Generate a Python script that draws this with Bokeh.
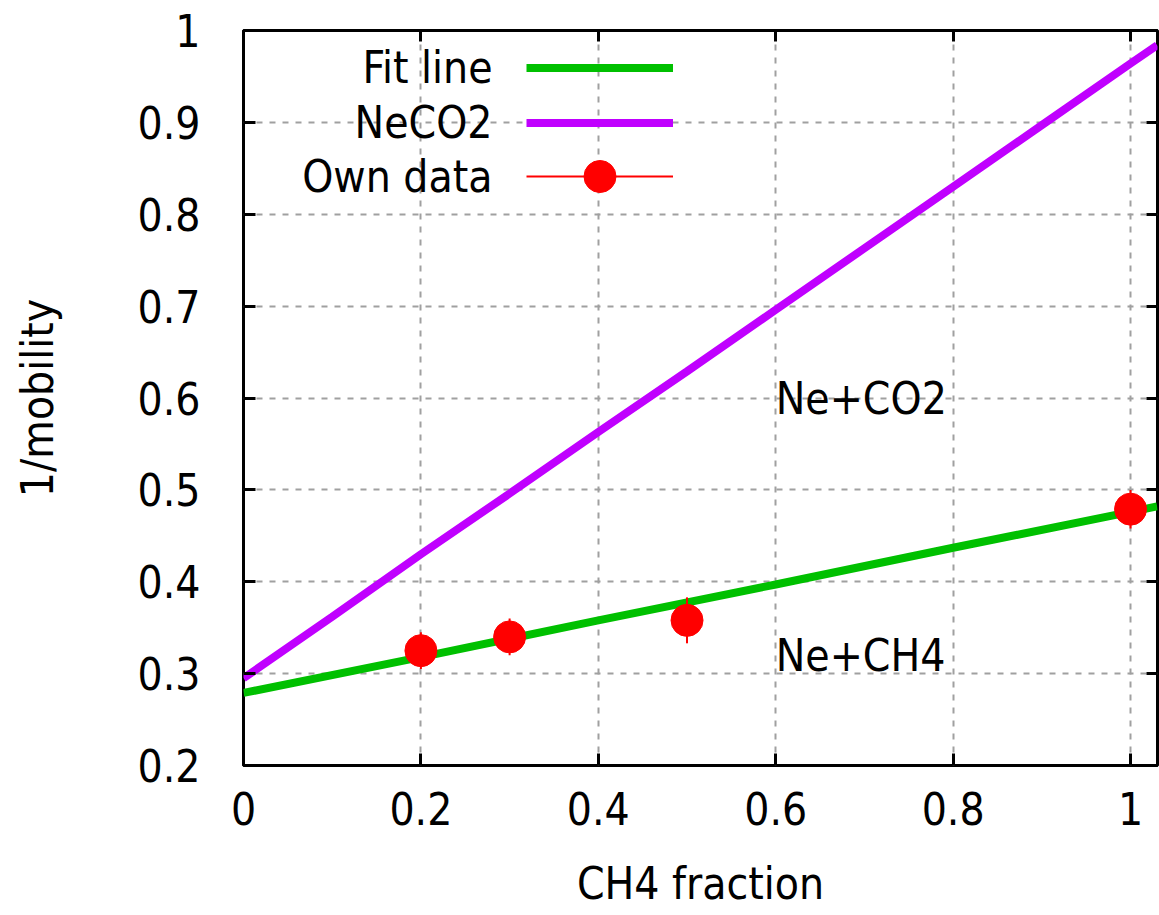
from bokeh.plotting import figure
from bokeh.models import (ColumnDataSource, Range1d, FixedTicker, LinearAxis,
                          Legend, LegendItem, Label)
from bokeh.core.properties import value
from bokeh.embed import file_html
from bokeh.resources import INLINE

# ---------------- data ----------------
x_ticks = [0, 0.2, 0.4, 0.6, 0.8, 1]
x_tick_labels = ["0", "0.2", "0.4", "0.6", "0.8", "1"]
y_ticks = [0.2, 0.3, 0.4, 0.5, 0.6, 0.7, 0.8, 0.9, 1]
y_tick_labels = ["0.2", "0.3", "0.4", "0.5", "0.6", "0.7", "0.8", "0.9", "1"]

fit_x = [0, 0.2, 0.4, 0.6, 0.8, 1.0, 1.03]
fit_y = [0.279, 0.318, 0.358, 0.397, 0.437, 0.476, 0.482]

neco2_x = [0, 0.1, 0.2, 0.3, 0.4, 0.5, 0.6, 0.7, 0.8, 0.9, 1.0, 1.03]
neco2_y = [0.295, 0.362, 0.430, 0.496, 0.563, 0.629, 0.696, 0.763, 0.830, 0.897, 0.964, 0.984]

own_x = [0.2, 0.3, 0.5, 1.0]
own_y = [0.325, 0.340, 0.358, 0.479]
own_err = [0.020, 0.020, 0.025, 0.021]

series_labels = ["Fit line", "NeCO2", "Own data"]
annotations = ["Ne+CO2", "Ne+CH4"]

FONT = "DejaVu Sans Condensed"
FS = "44px"

p = figure(width=1159, height=915, output_backend="svg", toolbar_location=None,
           x_range=Range1d(0, 1.0304), y_range=Range1d(0.2, 1.0),
           min_border_left=243, min_border_right=2, min_border_top=30,
           min_border_bottom=150)

p.outline_line_color = "black"
p.outline_line_width = 3
p.background_fill_color = "white"
p.border_fill_color = "white"

# axes
for ax in (p.xaxis[0], p.yaxis[0]):
    ax.major_label_text_font = FONT
    ax.major_label_text_font_size = FS
    ax.major_label_text_color = "black"
    ax.axis_label_text_font = FONT
    ax.axis_label_text_font_size = FS
    ax.axis_label_text_font_style = "normal"
    ax.axis_label_text_color = "black"
    ax.major_tick_in = 12
    ax.major_tick_out = 0
    ax.major_tick_line_width = 3
    ax.minor_tick_line_color = None
    ax.axis_line_color = None

p.xaxis.ticker = FixedTicker(ticks=x_ticks)
p.yaxis.ticker = FixedTicker(ticks=y_ticks)
p.xaxis.major_label_overrides = dict(zip(x_ticks, x_tick_labels))
p.yaxis.major_label_overrides = dict(zip(y_ticks, y_tick_labels))
p.xaxis.axis_label = "CH4 fraction"
p.yaxis.axis_label = "1/mobility"
p.xaxis.major_label_standoff = 26
p.yaxis.major_label_standoff = 43
p.xaxis.axis_label_standoff = 30
p.yaxis.axis_label_standoff = 72

# mirror axes (ticks only, no labels)
for loc, tk in (("above", x_ticks), ("right", y_ticks)):
    ax = LinearAxis(ticker=FixedTicker(ticks=tk))
    ax.major_label_text_font_size = "0px"
    ax.major_label_text_color = None
    ax.major_label_standoff = 0
    ax.major_tick_in = 11
    ax.major_tick_out = 0
    ax.major_tick_line_width = 3
    ax.minor_tick_line_color = None
    ax.axis_line_color = None
    p.add_layout(ax, loc)

# grid
for g in (p.xgrid[0], p.ygrid[0]):
    g.grid_line_color = "#a0a0a0"
    g.grid_line_width = 2
    g.grid_line_dash = "6 7"
p.xgrid.ticker = FixedTicker(ticks=x_ticks)
p.ygrid.ticker = FixedTicker(ticks=y_ticks)

# series
neco2_src = ColumnDataSource(dict(x=neco2_x, y=neco2_y))
fit_src = ColumnDataSource(dict(x=fit_x, y=fit_y))
own_src = ColumnDataSource(dict(
    x=own_x, y=own_y,
    lo=[y - e for y, e in zip(own_y, own_err)],
    hi=[y + e for y, e in zip(own_y, own_err)]))

r_neco2 = p.line("x", "y", source=neco2_src, line_color="#c000ff", line_width=8)
r_fit = p.line("x", "y", source=fit_src, line_color="#00c000", line_width=8)
r_err = p.segment(x0="x", y0="lo", x1="x", y1="hi", source=own_src,
                  line_color="#ff0000", line_width=2)
r_pts = p.scatter("x", "y", source=own_src, size=32, marker="circle",
                  fill_color="#ff0000", line_color="#ff0000")


def make_legend(items, loc, gh):
    lg = Legend(items=items, location=loc, orientation="vertical")
    lg.glyph_width = 147
    lg.glyph_height = gh
    lg.label_height = gh
    lg.label_width = 0
    lg.label_standoff = 0
    lg.spacing = 0
    lg.padding = 0
    lg.margin = 0
    lg.border_line_color = None
    lg.background_fill_alpha = 0
    lg.label_text_font_size = "1px"
    return lg


# legend glyphs (labels drawn to their left, gnuplot style)
p.add_layout(make_legend([
    LegendItem(label=value(""), renderers=[r_fit]),
    LegendItem(label=value(""), renderers=[r_neco2]),
], (283, 615), 55), "center")
p.add_layout(make_legend([
    LegendItem(label=value(""), renderers=[r_err, r_pts]),
], (283, 549), 80), "center")

legend_label_y = [0.96, 0.9, 0.841]
for txt, yy in zip(series_labels, legend_label_y):
    p.add_layout(Label(x=0.2807, y=yy, text=txt, text_align="right",
                       text_baseline="middle", text_font=FONT,
                       text_font_size=FS, text_color="black"))

annot_x = [0.6, 0.6]
annot_y = [0.6, 0.32]
for txt, xx, yy in zip(annotations, annot_x, annot_y):
    p.add_layout(Label(x=xx, y=yy, text=txt, text_align="left",
                       text_baseline="middle", text_font=FONT,
                       text_font_size=FS, text_color="black"))

open("out.html", "w").write(file_html(p, INLINE))
